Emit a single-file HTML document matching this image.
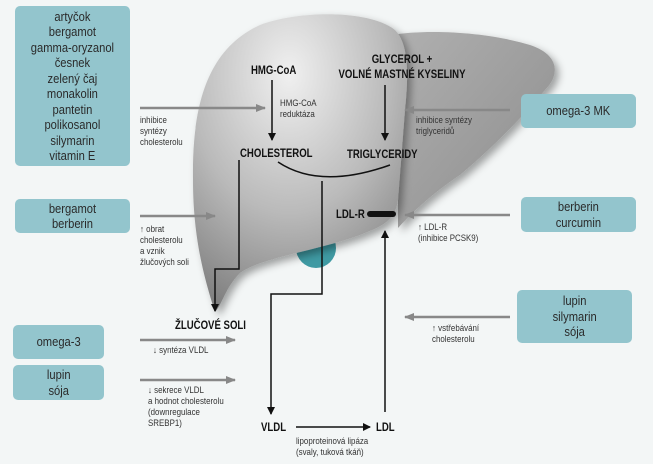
<!DOCTYPE html>
<html><head><meta charset="utf-8"><style>
body{margin:0;width:653px;height:464px;background:#f3f6f6;overflow:hidden;position:relative;font-family:"Liberation Sans",sans-serif;}
.box{position:absolute;background:#93c5cd;border-radius:5px;color:#2a2a2a;font-size:13px;text-align:center;display:flex;flex-direction:column;justify-content:center;align-items:center;line-height:15.5px;}
.box div{transform:scaleX(0.86);white-space:nowrap;}
.t{position:absolute;font-size:9px;color:#333;line-height:11px;white-space:nowrap;transform:scaleX(0.88);transform-origin:left top;}
.b{position:absolute;font-weight:bold;font-size:12px;color:#111;white-space:nowrap;line-height:15px;transform:scaleX(0.8);transform-origin:left top;}
svg{position:absolute;left:0;top:0;}
</style></head><body>
<svg width="653" height="464">
<defs>
<radialGradient id="g1" cx="0.45" cy="0.2" r="0.85"><stop offset="0" stop-color="#f0f0f0"/><stop offset="0.55" stop-color="#bababa"/><stop offset="1" stop-color="#7e7e7e"/></radialGradient>
<linearGradient id="g2" x1="0" y1="0" x2="1" y2="1"><stop offset="0" stop-color="#b0b0b0"/><stop offset="1" stop-color="#8c8c8c"/></linearGradient>
<marker id="ak" markerWidth="8" markerHeight="8" refX="7" refY="4" orient="auto" markerUnits="userSpaceOnUse"><path d="M0,0 L8,4 L0,8 Z" fill="#111"/></marker>
<marker id="ag" markerWidth="10" markerHeight="8" refX="9" refY="4" orient="auto" markerUnits="userSpaceOnUse"><path d="M0,0 L10,4 L0,8 Z" fill="#888"/></marker>
<filter id="sh"><feDropShadow dx="4" dy="4" stdDeviation="4" flood-opacity="0.35"/></filter>
</defs>
<circle cx="316" cy="248" r="20" fill="#3f9aa3"/>
<path d="M392,35 C420,30 480,30 530,45 C560,55 560,75 545,90 C520,120 490,150 460,175 C430,195 410,215 398,228 L398,60 Z" fill="url(#g2)" filter="url(#sh)"/>
<path d="M215,312 C205,280 193,240 193,180 C192,110 205,50 260,25 C300,10 370,10 395,30 C410,45 408,80 405,110 L398,200 C395,222 380,227 360,235 C320,250 260,258 240,273 C225,288 222,305 215,312 Z" fill="url(#g1)" filter="url(#sh)"/>
<g stroke="#111" stroke-width="1.5" fill="none">
<line x1="272" y1="80" x2="272" y2="140" marker-end="url(#ak)"/>
<line x1="385" y1="85" x2="385" y2="140" marker-end="url(#ak)"/>
<polyline points="239,160 239,269 215,269 215,311" marker-end="url(#ak)"/>
<path d="M278,162 Q320,190 390,165"/>
<polyline points="322,181 322,294 271,294 271,414" marker-end="url(#ak)"/>
<line x1="296" y1="427" x2="370" y2="427" marker-end="url(#ak)"/>
<line x1="385" y1="412" x2="385" y2="231" marker-end="url(#ak)"/>
</g>
<line x1="370" y1="214" x2="393" y2="214" stroke="#111" stroke-width="6" stroke-linecap="round"/>
<g stroke="#888" stroke-width="2.5" fill="none">
<line x1="140" y1="108" x2="265" y2="108" marker-end="url(#ag)"/>
<line x1="140" y1="216" x2="215" y2="216" marker-end="url(#ag)"/>
<line x1="510" y1="110" x2="405" y2="110" marker-end="url(#ag)"/>
<line x1="510" y1="215" x2="405" y2="215" marker-end="url(#ag)"/>
<line x1="510" y1="317" x2="405" y2="317" marker-end="url(#ag)"/>
<line x1="140" y1="340" x2="235" y2="340" marker-end="url(#ag)"/>
<line x1="140" y1="380" x2="235" y2="380" marker-end="url(#ag)"/>
</g>
</svg>
<div class="box" style="left:15px;top:6px;width:115px;height:160px"><div>artyčok<br>bergamot<br>gamma-oryzanol<br>česnek<br>zelený čaj<br>monakolin<br>pantetin<br>polikosanol<br>silymarin<br>vitamin E</div></div>
<div class="box" style="left:15px;top:199px;width:115px;height:34px"><div>bergamot<br>berberin</div></div>
<div class="box" style="left:13px;top:325px;width:91px;height:34px"><div>omega-3</div></div>
<div class="box" style="left:13px;top:365px;width:91px;height:35px"><div>lupin<br>sója</div></div>
<div class="box" style="left:521px;top:94px;width:115px;height:34px"><div>omega-3 MK</div></div>
<div class="box" style="left:521px;top:197px;width:115px;height:35px"><div>berberin<br>curcumin</div></div>
<div class="box" style="left:517px;top:290px;width:115px;height:53px"><div>lupin<br>silymarin<br>sója</div></div>
<div class="b" style="left:251px;top:63px">HMG-CoA</div>
<div class="b" style="left:318px;top:52px;text-align:center;width:168px;transform-origin:center top">GLYCEROL +<br>VOLNÉ MASTNÉ KYSELINY</div>
<div class="b" style="left:240px;top:146px">CHOLESTEROL</div>
<div class="b" style="left:347px;top:147px">TRIGLYCERIDY</div>
<div class="b" style="left:336px;top:207px">LDL-R</div>
<div class="b" style="left:175px;top:318px">ŽLUČOVÉ SOLI</div>
<div class="b" style="left:261px;top:420px">VLDL</div>
<div class="b" style="left:376px;top:420px">LDL</div>
<div class="t" style="left:280px;top:98px">HMG-CoA<br>reduktáza</div>
<div class="t" style="left:140px;top:115px">inhibice<br>syntézy<br>cholesterolu</div>
<div class="t" style="left:140px;top:224px">↑ obrat<br>cholesterolu<br>a vznik<br>žlučových soli</div>
<div class="t" style="left:416px;top:115px">inhibice syntézy<br>triglyceridů</div>
<div class="t" style="left:418px;top:222px">↑ LDL-R<br>(inhibice PCSK9)</div>
<div class="t" style="left:432px;top:323px">↑ vstřebávání<br>cholesterolu</div>
<div class="t" style="left:153px;top:345px">↓ syntéza VLDL</div>
<div class="t" style="left:148px;top:385px">↓ sekrece VLDL<br>a hodnot cholesterolu<br>(downregulace<br>SREBP1)</div>
<div class="t" style="left:296px;top:436px">lipoproteinová lipáza<br>(svaly, tuková tkáň)</div>
</body></html>
